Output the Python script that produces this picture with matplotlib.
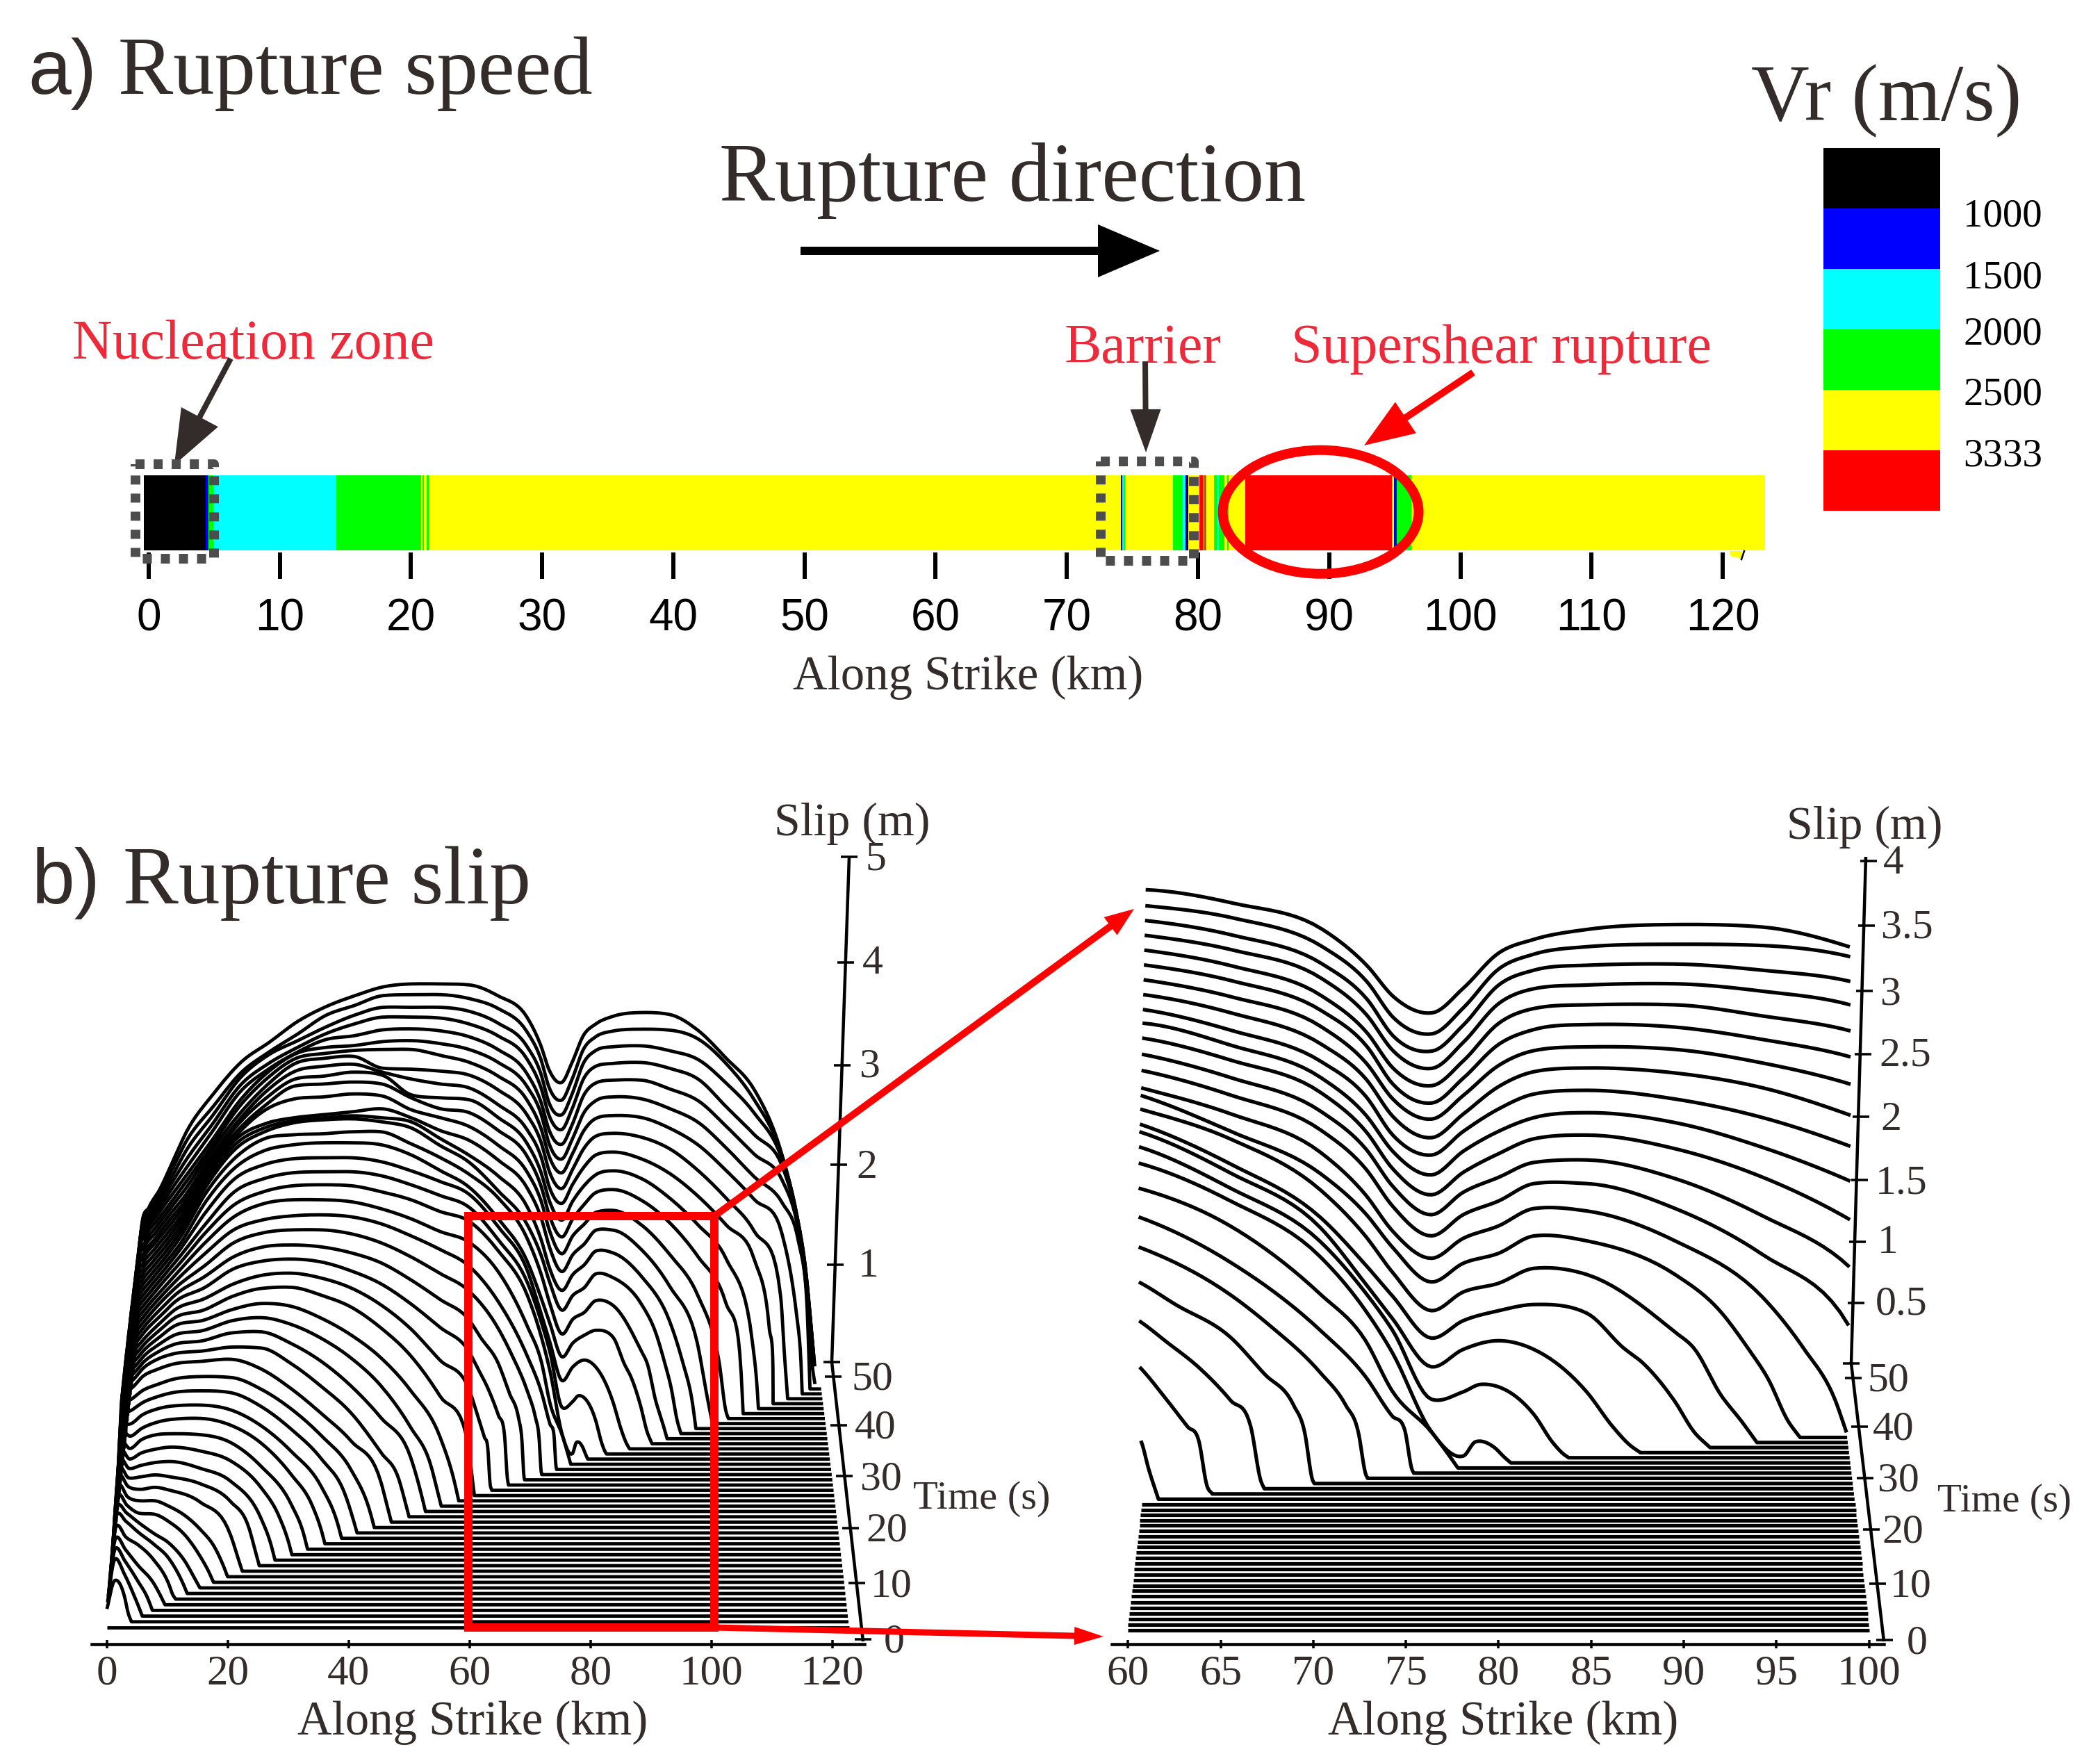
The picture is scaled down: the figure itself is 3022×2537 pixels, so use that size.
import numpy as np
import matplotlib
matplotlib.use("Agg")
import matplotlib.pyplot as plt
from matplotlib.patches import Polygon, Ellipse

W, H = 3022, 2537
SERIF = "Liberation Serif"
SANS = "Liberation Sans"
DARK = "#332c2b"
LABELRED = "#ee2a3a"
DOT = "#4d4d4d"

# ---------- panel a data: rupture speed class along strike ----------
SEG_KM = [-0.37, 4.35, 4.55, 4.96, 14.32, 20.8, 20.9, 21.0, 21.2, 21.35, 74.1, 74.2, 74.35, 74.45,
          78.1, 78.83, 79.05, 79.27, 80.1, 80.4, 80.47, 80.6, 81.2, 81.43, 81.58, 82.0, 82.2, 82.33,
          83.6, 94.77, 94.95, 95.14, 96.25, 123.2]
SEG_COLOR = ["black", "blue", "lime", "cyan", "lime", "yellow", "lime", "yellow", "lime", "yellow",
             "navy", "cyan", "lime", "yellow", "lime", "cyan", "navy", "yellow", "red", "yellow",
             "red", "yellow", "lime", "cyan", "lime", "yellow", "lime", "yellow", "red", "yellow",
             "blue", "lime", "yellow"]
A_TICKS = [0, 10, 20, 30, 40, 50, 60, 70, 80, 90, 100, 110, 120]
CBAR_COLORS = ["black", "blue", "cyan", "lime", "yellow", "red"]
CBAR_LABELS = ["1000", "1500", "2000", "2500", "3333"]

# ---------- panel b data ----------
# slip (m) read at these along-strike positions (km), one list per time step (s)
COLS = [0, 1.5, 3, 5, 7.5, 10, 15, 20, 25, 30, 35, 40, 45, 50, 55, 60, 65, 70, 72.5, 74, 76.2, 78,
        80, 82, 85, 90, 95, 100, 105, 110, 115, 118, 120, 122]
s01 = [.13, .42, .25]
s02 = [.14, .58, .42]
s03 = [.14, .63, .50, .30]
s04 = [.14, .68, .56, .40, .22]
s05 = [.15, .74, .63, .55, .40, .14]
s06 = [.15, .80, .73, .62, .50, .35]
s07 = [.15, .83, .76, .66, .55, .45]
s08 = [.15, .88, .78, .70, .69, .61, .26]
s09 = [.15, .92, .81, .77, .77, .71, .48]
s10 = [.16, .96, .86, .83, .85, .82, .70, .36]
s11 = [.16, .98, .89, .90, .92, .90, .83, .65]
s12 = [.16, 1.01, .93, .96, .99, 1.0, .93, .80, .42]
s13 = [.16, 1.04, .97, 1.03, 1.07, 1.09, 1.05, .95, .68]
s14 = [.17, 1.06, 1.02, 1.11, 1.16, 1.17, 1.16, 1.08, .84, .45]
s15 = [.17, 1.10, 1.09, 1.17, 1.23, 1.26, 1.27, 1.20, 1.02, .70]
s16 = [.17, 1.15, 1.16, 1.25, 1.31, 1.34, 1.35, 1.30, 1.14, .88, .52]
s17 = [.18, 1.20, 1.24, 1.32, 1.38, 1.42, 1.44, 1.42, 1.28, 1.05, .75]
s18 = [.18, 1.25, 1.30, 1.39, 1.45, 1.50, 1.53, 1.52, 1.40, 1.20, .93, .58]
s19 = [.18, 1.32, 1.36, 1.48, 1.55, 1.60, 1.63, 1.65, 1.55, 1.35, 1.10, .82, .40]
s20 = [.18, 1.33, 1.38, 1.51, 1.60, 1.65, 1.68, 1.72, 1.71, 1.55, 1.32, 1.05, .65]
s21 = [.19, 1.33, 1.39, 1.52, 1.62, 1.69, 1.73, 1.81, 1.82, 1.70, 1.52, 1.27, .95, .55]
s22 = [.19, 1.34, 1.40, 1.53, 1.64, 1.73, 1.78, 1.88, 1.91, 1.84, 1.70, 1.50, 1.22, .80]
s23 = [.19, 1.34, 1.41, 1.54, 1.66, 1.77, 1.83, 1.94, 2.00, 1.97, 1.85, 1.68, 1.45, 1.12, .65]
s24 = [.20, 1.35, 1.42, 1.55, 1.68, 1.80, 1.88, 2.02, 2.10, 2.11, 2.03, 1.91, 1.70, 1.42, 1.01, .47]
s25 = [.20, 1.35, 1.43, 1.56, 1.70, 1.83, 1.94, 2.09, 2.18, 2.20, 2.15, 2.05, 1.88, 1.64, 1.32, 1.02]
s26 = [.20, 1.36, 1.44, 1.58, 1.72, 1.86, 2.0, 2.19, 2.27, 2.29, 2.26, 2.17, 2.04, 1.84, 1.60, 1.35, .71]
s27 = [.21, 1.36, 1.45, 1.59, 1.74, 1.88, 2.06, 2.26, 2.36, 2.38, 2.36, 2.30, 2.20, 2.03, 1.83, 1.62, 1.18]
s28 = [.21, 1.36, 1.46, 1.60, 1.76, 1.90, 2.12, 2.35, 2.45, 2.48, 2.48, 2.44, 2.35, 2.21, 2.04, 1.86, 1.48, .85]
s29 = [.21, 1.37, 1.47, 1.61, 1.77, 1.92, 2.19, 2.43, 2.53, 2.57, 2.58, 2.56, 2.49, 2.37, 2.23, 2.06, 1.70, 1.15, .78, .46]
s30 = [.22, 1.37, 1.48, 1.62, 1.78, 1.94, 2.25, 2.51, 2.64, 2.68, 2.68, 2.66, 2.59, 2.49, 2.36, 2.25, 1.95, 1.40, 1.03, .62, .29]
s31 = [.22, 1.37, 1.49, 1.63, 1.80, 1.96, 2.30, 2.58, 2.71, 2.77, 2.78, 2.77, 2.71, 2.63, 2.51, 2.41, 2.11, 1.66, 1.23, .89, .25, .055]
s32 = [.22, 1.37, 1.50, 1.64, 1.81, 1.98, 2.34, 2.66, 2.79, 2.85, 2.86, 2.86, 2.82, 2.73, 2.62, 2.50, 2.17, 1.74, 1.33, 1.03, .47, .53, .57, .35]
s33 = [.23, 1.38, 1.51, 1.65, 1.82, 2.0, 2.41, 2.74, 2.88, 2.94, 2.95, 2.95, 2.91, 2.82, 2.71, 2.58, 2.25, 1.81, 1.36, 1.08, .69, .83, .90, .83, .49]
s34 = [.23, 1.38, 1.52, 1.66, 1.83, 2.01, 2.47, 2.80, 2.97, 3.03, 3.05, 3.05, 3.03, 2.93, 2.77, 2.60, 2.28, 1.85, 1.47, 1.22, .88, 1.02, 1.10, 1.15, 1.08, .38]
s35 = [.23, 1.38, 1.53, 1.67, 1.84, 2.03, 2.51, 2.85, 3.04, 3.08, 3.09, 3.11, 3.11, 2.99, 2.85, 2.68, 2.44, 2.03, 1.66, 1.37, 1.06, 1.21, 1.28, 1.40, 1.35, .89]
s36 = [.24, 1.38, 1.54, 1.68, 1.85, 2.04, 2.53, 2.89, 3.06, 3.15, 3.18, 3.19, 3.16, 3.10, 2.92, 2.75, 2.46, 2.12, 1.80, 1.53, 1.25, 1.40, 1.48, 1.62, 1.58, 1.31]
s37 = [.24, 1.38, 1.55, 1.69, 1.86, 2.05, 2.53, 2.89, 3.05, 3.12, 3.15, 3.17, 3.15, 3.11, 2.94, 2.77, 2.56, 2.25, 1.91, 1.62, 1.40, 1.56, 1.66, 1.80, 1.78, 1.54, 1.09]
s38 = [.24, 1.38, 1.56, 1.70, 1.87, 2.06, 2.53, 2.89, 3.04, 3.10, 3.13, 3.16, 3.19, 3.10, 2.97, 2.87, 2.67, 2.39, 2.08, 1.78, 1.54, 1.71, 1.82, 1.96, 1.96, 1.76, 1.39, .82]
s39 = [.24, 1.38, 1.57, 1.71, 1.88, 2.06, 2.52, 2.88, 3.13, 3.24, 3.26, 3.29, 3.27, 3.13, 3.05, 2.96, 2.77, 2.50, 2.20, 1.90, 1.67, 1.85, 1.97, 2.09, 2.11, 1.96, 1.66, 1.25]
s40 = [.24, 1.38, 1.58, 1.72, 1.89, 2.07, 2.51, 2.87, 3.13, 3.32, 3.34, 3.36, 3.34, 3.20, 3.09, 3.05, 2.87, 2.61, 2.30, 2.00, 1.79, 1.97, 2.12, 2.24, 2.27, 2.16, 1.93, 1.59, 1.13]
s41 = [.24, 1.38, 1.58, 1.72, 1.90, 2.07, 2.50, 2.88, 3.15, 3.34, 3.37, 3.41, 3.38, 3.18, 3.15, 3.13, 2.95, 2.69, 2.39, 2.10, 1.91, 2.10, 2.26, 2.37, 2.41, 2.33, 2.13, 1.86, 1.52, .68]
s42 = [.24, 1.38, 1.59, 1.73, 1.91, 2.08, 2.50, 2.87, 3.17, 3.37, 3.42, 3.44, 3.36, 3.29, 3.24, 3.20, 3.03, 2.78, 2.50, 2.19, 2.03, 2.22, 2.40, 2.52, 2.55, 2.48, 2.33, 2.10, 1.81, 1.47]
s43 = [.24, 1.38, 1.59, 1.74, 1.92, 2.10, 2.51, 2.88, 3.18, 3.40, 3.45, 3.47, 3.35, 3.34, 3.32, 3.28, 3.13, 2.88, 2.60, 2.30, 2.13, 2.32, 2.54, 2.66, 2.69, 2.65, 2.53, 2.31, 2.03, 1.70, 1.04]
s44 = [.24, 1.38, 1.60, 1.75, 1.93, 2.12, 2.51, 2.91, 3.20, 3.40, 3.45, 3.48, 3.49, 3.49, 3.43, 3.36, 3.22, 2.98, 2.69, 2.40, 2.24, 2.43, 2.67, 2.79, 2.82, 2.80, 2.69, 2.52, 2.26, 1.97, 1.63, .82]
s45 = [.24, 1.38, 1.60, 1.76, 1.95, 2.14, 2.52, 2.92, 3.21, 3.40, 3.46, 3.48, 3.52, 3.53, 3.50, 3.44, 3.31, 3.07, 2.79, 2.48, 2.33, 2.53, 2.80, 2.92, 2.96, 2.94, 2.84, 2.70, 2.44, 2.15, 1.89, 1.52, .83]
s46 = [.24, 1.38, 1.60, 1.76, 1.97, 2.17, 2.56, 2.96, 3.19, 3.36, 3.49, 3.53, 3.59, 3.60, 3.58, 3.52, 3.39, 3.15, 2.86, 2.57, 2.43, 2.63, 2.93, 3.05, 3.08, 3.08, 2.99, 2.87, 2.61, 2.33, 2.07, 1.60, .93]
s47 = [.24, 1.39, 1.60, 1.77, 1.99, 2.21, 2.59, 2.98, 3.20, 3.36, 3.50, 3.60, 3.67, 3.67, 3.66, 3.60, 3.48, 3.25, 2.96, 2.67, 2.53, 2.74, 3.05, 3.17, 3.20, 3.21, 3.15, 3.04, 2.76, 2.48, 2.17, 1.62, .99, .13]
s48 = [.24, 1.39, 1.60, 1.77, 2.01, 2.26, 2.63, 3.01, 3.24, 3.38, 3.52, 3.64, 3.72, 3.72, 3.72, 3.68, 3.56, 3.33, 3.05, 2.75, 2.63, 2.84, 3.16, 3.28, 3.32, 3.33, 3.28, 3.19, 2.95, 2.65, 2.20, 1.63, 1.03, .13]
s49 = [.24, 1.39, 1.60, 1.78, 2.04, 2.31, 2.67, 3.01, 3.22, 3.40, 3.59, 3.69, 3.79, 3.80, 3.80, 3.76, 3.66, 3.43, 3.15, 2.86, 2.73, 2.94, 3.25, 3.37, 3.43, 3.45, 3.44, 3.35, 3.10, 2.74, 2.20, 1.61, 1.03, .14]
s50 = [.24, 1.39, 1.60, 1.78, 2.07, 2.36, 2.75, 3.07, 3.27, 3.48, 3.63, 3.74, 3.83, 3.86, 3.86, 3.85, 3.74, 3.53, 3.24, 2.99, 2.86, 3.06, 3.34, 3.45, 3.53, 3.57, 3.55, 3.39, 3.11, 2.80, 2.19, 1.59, 1.04, .15]
ROWS = [s01, s02, s03, s04, s05, s06, s07, s08, s09, s10, s11, s12, s13, s14, s15, s16, s17, s18, s19, s20,
        s21, s22, s23, s24, s25, s26, s27, s28, s29, s30, s31, s32, s33, s34, s35, s36, s37, s38, s39, s40,
        s41, s42, s43, s44, s45, s46, s47, s48, s49, s50]

# extra (km, slip) readings close to the rupture front of each time step
EXTRA = {1: [(3.5, .09)], 2: [(4.5, .20), (5.3, .07)], 3: [(6.6, .12)], 4: [(8.7, .08)], 5: [(10.5, .05)],
         6: [(12.2, .10)], 7: [(12.5, .27), (14.2, .08)], 8: [(12.5, .48), (16.4, .10)],
         9: [(12.5, .62), (17.5, .28), (18.8, .10)], 10: [(21.2, .12)], 11: [(23, .38), (24.1, .12)],
         12: [(26.6, .15)], 13: [(28, .38), (29.5, .12)], 14: [(32, .15)], 15: [(33.5, .38), (35, .12)],
         16: [(37.7, .14)], 17: [(39, .38), (40.3, .13)], 18: [(43.2, .14)], 19: [(46.1, .14)],
         20: [(48, .38), (49.1, .14)], 21: [(51.9, .15)], 22: [(53.5, .40), (54.6, .14)], 23: [(57.6, .16)],
         24: [(60.4, .24)], 25: [(61.5, .75), (62.6, .54), (63.2, .43), (63.6, .07)],
         26: [(61.5, 1.18), (63.3, .97), (66.1, .50), (66.6, .07)],
         27: [(62, 1.44), (66.9, .88), (68.5, .63), (69.1, .41), (69.5, .03)],
         28: [(67.2, 1.23), (71.4, .59), (72.1, .37), (72.5, .03)], 29: [(74.7, .35), (75.1, .03)],
         30: [(77, .14)], 31: [(78.7, .17), (79.8, .12), (80.3, .05)], 32: [(79, .59), (83.1, .12), (83.7, .03)],
         33: [(86.5, .21), (87.5, .06)], 34: [(87.1, .80), (88.2, .68), (91.2, .12)],
         35: [(91.1, .76), (92.7, .38), (93.9, .17)], 36: [(92.5, 1.03), (94.2, .72), (95.4, .47), (96.6, .13)],
         37: [(97.4, .68), (99.3, .26)], 38: [(102, .26)], 39: [(104, .58), (105.5, .06)], 40: [(108, .45)],
         41: [(111, .25)], 42: [(113, .78), (114, .2)], 43: [(116, .44)], 44: [(119, .39)], 45: [(120.6, .34)],
         46: [(121.5, .15)]}
# position of the rupture front (km) per time step
FRONT = [4.0, 5.7, 7.3, 9.3, 11.0, 12.85, 14.9, 17.1, 19.4, 21.8, 24.6, 27.2, 30.0, 32.6, 35.5, 38.3, 40.9, 43.8,
         46.7, 49.7, 52.5, 55.2, 58.2, 60.9, 63.9, 66.8, 69.6, 72.6, 75.2, 77.7, 80.7, 84.0, 88.1, 92.1, 94.8,
         97.3, 100.0, 103.0, 105.9, 108.6, 111.4, 114.1, 116.8, 119.5, 121.0, 122.0]
XA_TICKS = [0, 20, 40, 60, 80, 100, 120]
XB_TICKS = [60, 65, 70, 75, 80, 85, 90, 95, 100]
TIME_TICKS = [0, 10, 20, 30, 40, 50]
SLIP_L = [1, 2, 3, 4, 5]
SLIP_R = [0.5, 1, 1.5, 2, 2.5, 3, 3.5, 4]
SLIP_R_LABELS = ["0.5", "1", "1.5", "2", "2.5", "3", "3.5", "4"]


def pt(px):
    return px * 72.0 / 100.0


def smooth(x, y, n=10):
    # cubic drawing of the read points; slopes stay within the neighbouring chords
    x = np.asarray(x, float)
    y = np.asarray(y, float)
    if len(x) < 3:
        return x, y
    h = np.diff(x)
    d = np.diff(y) / h
    m = np.zeros_like(y)
    m[0], m[-1] = d[0], d[-1]
    for i in range(1, len(x) - 1):
        c = (h[i] * d[i - 1] + h[i - 1] * d[i]) / (h[i - 1] + h[i])
        if d[i - 1] * d[i] > 0:
            lim = 3 * min(abs(d[i - 1]), abs(d[i]))
            m[i] = np.sign(c) * min(abs(c), lim)
        else:
            m[i] = c * 0.5
    xs, ys = [], []
    for i in range(len(x) - 1):
        u = np.linspace(0, 1, n, endpoint=False)
        a = (2 * u**3 - 3 * u**2 + 1) * y[i] + (u**3 - 2 * u**2 + u) * h[i] * m[i]
        b = (-2 * u**3 + 3 * u**2) * y[i + 1] + (u**3 - u**2) * h[i] * m[i + 1]
        xs.append(x[i] + u * h[i])
        ys.append(a + b)
    xs.append([x[-1]])
    ys.append([y[-1]])
    return np.concatenate(xs), np.maximum(np.concatenate(ys), 0)


def row_curve(t):
    if t == 0:
        return np.array([0.0, 123.0]), np.array([0.0, 0.0])
    vals = ROWS[t - 1]
    nodes = list(zip(COLS[:len(vals)], vals)) + EXTRA.get(t, [])
    if t <= len(FRONT):
        nodes.append((FRONT[t - 1], 0.0))
    nodes = sorted(nodes)
    x, y = smooth([n[0] for n in nodes], [n[1] for n in nodes])
    if t <= len(FRONT) and FRONT[t - 1] < 121.5:
        x = np.append(x, 123.0)
        y = np.append(y, 0.0)
    return x, y


def persp(t, s):
    return 1 - 0.00167 * t + 0.009 * s


def left_xy(km, t, s):
    return 687.7 + (km - 61.5) * 8.685 * persp(t, s), 2342 - 8.235 * t + 0.0135 * t * t - 142 * s


def right_xy(km, t, s):
    return 2156.4 + (km - 80) * 26.69 * persp(t, s), 2346 - 8.162 * t + 0.01263 * t * t - 179 * s


def frame(x0, y0, x1, y1):
    return fig.add_axes([x0 / W, 1 - y1 / H, (x1 - x0) / W, (y1 - y0) / H])


fig = plt.figure(figsize=(W / 100, H / 100), dpi=100, facecolor="white")

# ---------- strip of panel a ----------
ax_s = frame(206.8, 684, 2539.6, 795)
ax_s.set_xlim(SEG_KM[0], SEG_KM[-1])
ax_s.set_ylim(-3, 108)
for a, b, c in zip(SEG_KM[:-1], SEG_KM[1:], SEG_COLOR):
    ax_s.broken_barh([(a, b - a)], (0, 108), facecolors=c, linewidth=0)
for sp in ax_s.spines.values():
    sp.set_visible(False)
ax_s.set_yticks([])
ax_s.set_xticks(A_TICKS)
ax_s.tick_params(axis="x", direction="out", length=pt(38), width=pt(6), pad=pt(28), labelsize=46, color="black")
for lb in ax_s.get_xticklabels():
    lb.set_fontfamily(SANS)

# ---------- colour bar ----------
ax_c = frame(2624, 213, 2792.4, 735)
ax_c.set_xlim(0, 1)
ax_c.set_ylim(6, 0)
for i, c in enumerate(CBAR_COLORS):
    ax_c.bar(0.5, 1, bottom=i, width=1, color=c, linewidth=0)
ax_c.axis("off")

# ---------- x axes of panel b ----------
for (x0, x1, k0, k1, ticks) in [(132, 1244, -2.48, 125.3, XA_TICKS), (1600, 2711, 59.13, 100.8, XB_TICKS)]:
    ax = frame(x0, 2340, x1, 2366)
    ax.set_xlim(k0, k1)
    ax.set_yticks([])
    ax.patch.set_alpha(0)
    for name, sp in ax.spines.items():
        sp.set_visible(name == "bottom")
    ax.spines["bottom"].set_linewidth(pt(4.5))
    ax.set_xticks(ticks)
    ax.tick_params(axis="x", direction="inout", length=pt(12), width=pt(3.5), pad=pt(9),
                   labelsize=44, labelcolor=DARK)
    for lb in ax.get_xticklabels():
        lb.set_fontfamily(SERIF)

# ---------- overlay ----------
ov = fig.add_axes([0, 0, 1, 1])
ov.set_xlim(0, W)
ov.set_ylim(H, 0)
ov.axis("off")
ov.patch.set_alpha(0)


def txt(x, y, s, size, fam=SERIF, color=DARK, **kw):
    ov.text(x, y, s, fontsize=size, family=fam, color=color, va=kw.pop("va", "baseline"), **kw)


def arrow(x0, y0, x1, y1, shaft, hlen, hhalf, color, z=5):
    v = np.array([x1 - x0, y1 - y0], float)
    L = np.hypot(*v)
    u = v / L
    n = np.array([-u[1], u[0]])
    tip = np.array([x1, y1], float)
    base = tip - u * hlen
    st = np.array([x0, y0], float)
    pts = [st + n * shaft / 2, base + n * shaft / 2, base + n * hhalf, tip, base - n * hhalf,
           base - n * shaft / 2, st - n * shaft / 2]
    ov.add_patch(Polygon(pts, closed=True, facecolor=color, edgecolor="none", zorder=z))


# waterfall curves
for t in range(0, 51):
    km, s = row_curve(t)
    x, y = left_xy(km, t, s)
    ov.plot(x, y, color="black", lw=pt(4.8), solid_joinstyle="round", solid_capstyle="butt", zorder=2)
    mask = (km > 60) & (km < 100)
    kmr = np.concatenate([[60], km[mask], [100]])
    sr = np.interp(kmr, km, s)
    x, y = right_xy(kmr, t, sr)
    ov.plot(x, y, color="black", lw=pt(5.2), solid_joinstyle="round", solid_capstyle="butt", zorder=2)

# 3D style axes: left and right
AX = dict(color="black", solid_capstyle="butt", zorder=3)
ov.plot([1242, 1197, 1222], [2362, 1960, 1233], lw=pt(4.5), **AX)
ov.plot([2711, 2664, 2685], [2362, 1962, 1233], lw=pt(4.5), **AX)


def on_line(y, ya, xa, yb, xb):
    return xa + (y - ya) * (xb - xa) / (yb - ya)


# left time axis
for tk, y, lx in zip(TIME_TICKS, [2359, 2278, 2199, 2124, 2051, 1981], [1287, 1283, 1276, 1268, 1260, 1255]):
    xc = on_line(y, 2362, 1242, 1960, 1197)
    ov.plot([xc - 12, xc + 12], [y, y], lw=pt(3.5), **AX)
    txt(lx, y + 5, str(tk), 43, ha="center", va="center")
ov.plot([1185, 1209], [1960, 1960], lw=pt(3.5), **AX)
# left slip axis
for sl, y, lx, ly in zip(SLIP_L, [1820, 1676, 1533, 1385, 1233], [1250, 1247, 1252, 1256, 1260],
                         [1823, 1681, 1535, 1387, 1238]):
    xc = on_line(y, 1960, 1197, 1233, 1222)
    ov.plot([xc - 12, xc + 12], [y, y], lw=pt(3.5), **AX)
    txt(lx, ly, str(sl), 43, ha="center", va="center")
# right time axis
for tk, y, lx in zip(TIME_TICKS, [2360, 2279, 2201, 2127, 2053, 1983], [2759, 2750, 2738, 2732, 2725, 2717]):
    xc = on_line(y, 2362, 2711, 1962, 2664)
    ov.plot([xc - 11, xc + 13], [y, y], lw=pt(3.5), **AX)
    txt(lx, y + 5, str(tk), 43, ha="center", va="center")
ov.plot([2652, 2676], [1962, 1962], lw=pt(3.5), **AX)
# right slip axis
for sl, lab, y, lx, ly in zip(SLIP_R, SLIP_R_LABELS, [1874.5, 1786.5, 1698, 1607, 1517, 1426, 1332, 1239],
                              [2736, 2717, 2736, 2721, 2742, 2721, 2744, 2725],
                              [1878, 1789, 1703, 1612, 1520, 1431, 1336, 1243]):
    xc = on_line(y, 1962, 2664, 1233, 2685)
    ov.plot([xc - 8, xc + 16], [y, y], lw=pt(3.5), **AX)
    txt(lx, ly, lab, 43, ha="center", va="center")

# titles and labels
txt(40, 135, "a)", 80, fam=SANS)
txt(170, 135, "Rupture speed", 85.5)
txt(46, 1300, "b)", 80, fam=SANS)
txt(177, 1300, "Rupture slip", 86)
txt(1035, 289, "Rupture direction", 86.5)
txt(2520, 172, "Vr (m/s)", 83.5)
for lab, yb in zip(CBAR_LABELS, [325, 414.5, 495, 582.5, 670.6]):
    txt(2825, yb, lab, 41, color="black")
txt(104, 516, "Nucleation zone", 57.5, color=LABELRED)
txt(1532, 522, "Barrier", 57.5, color=LABELRED)
txt(1858, 522, "Supershear rupture", 57.5, color=LABELRED)
txt(1141, 992, "Along Strike (km)", 49.5)
txt(428, 2496, "Along Strike (km)", 49.5)
txt(1911, 2496, "Along Strike (km)", 49.5)
txt(1114, 1202, "Slip (m)", 49)
txt(2571, 1207, "Slip (m)", 49)
txt(1314, 2171, "Time (s)", 42)
txt(2788, 2175, "Time (s)", 41)

# arrows of panel a
arrow(1152, 361, 1669, 361, 12, 89, 38, "black")
arrow(332, 516, 250.8, 669, 8, 78, 30, DARK)
arrow(1648, 520, 1649, 651, 8, 62, 22, DARK)
arrow(2120, 536, 1963, 641, 10, 72, 27, "red")

# dotted boxes
for (l, r, tp, bt) in [(195, 308, 668, 804), (1584, 1718, 664, 807)]:
    ov.plot([l, r, r, l, l], [tp, tp, bt, bt, tp], color=DOT, lw=pt(14), dashes=(0.93, 0.93),
            dash_capstyle="butt", zorder=6)
# supershear ellipse
ov.add_patch(Ellipse((1900.5, 736.7), 282, 178, fill=False, edgecolor="red", lw=pt(14), zorder=7))
# small mark under the end of the strip
ov.add_patch(Polygon([(2489, 793), (2507, 793), (2506, 804), (2490, 800)], closed=True, facecolor="yellow",
                     edgecolor="none", zorder=4))
ov.plot([2510, 2506], [793, 805], color="black", lw=pt(2.5), zorder=4)

# red zoom box and its arrows
ov.plot([674, 1028, 1028, 674, 674], [1750, 1750, 2342, 2342, 1750], color="red", lw=pt(12),
        solid_joinstyle="miter", solid_capstyle="projecting", zorder=8)
arrow(1028, 1750, 1632, 1308, 10, 42, 16, "red", z=8)
arrow(1028, 2342, 1588, 2355, 9, 42, 13, "red", z=8)

fig.savefig("out.png", dpi=100, facecolor="white")
